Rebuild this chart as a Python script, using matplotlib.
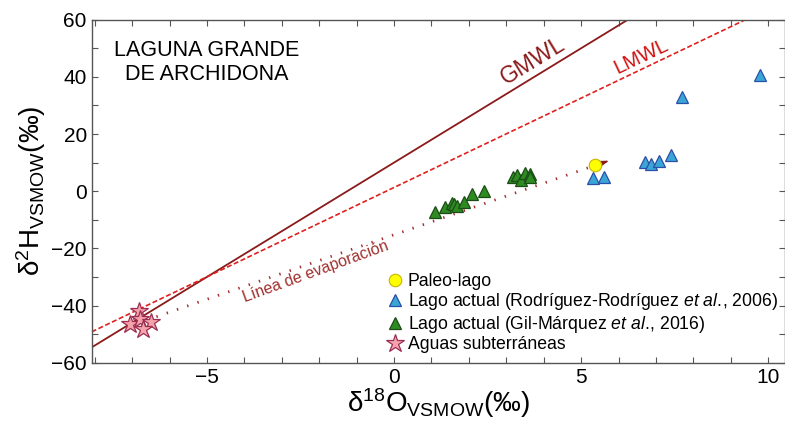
import numpy as np
import matplotlib.pyplot as plt

plt.rcParams['font.family'] = 'Liberation Sans'
plt.rcParams['mathtext.fontset'] = 'custom'
plt.rcParams['mathtext.rm'] = 'Liberation Sans'
plt.rcParams['mathtext.it'] = 'Liberation Sans:italic'

# Aguas subterraneas (d18O, d2H)
subt_x = [-6.82, -7.06, -6.79, -6.50, -6.72]
subt_y = [-41.8, -46.6, -44.7, -45.7, -48.3]

# Lago actual, Gil-Marquez et al. 2016
gil_x = [1.09, 1.36, 1.54, 1.61, 1.68, 1.86, 2.08, 2.40, 3.17, 3.30, 3.39, 3.50, 3.63, 3.64]
gil_y = [-7.4, -5.4, -4.0, -4.5, -5.2, -3.7, -1.0, 0.2, 5.1, 5.8, 3.9, 6.3, 6.0, 4.9]

# Lago actual, Rodriguez-Rodriguez et al. 2006
rod_x = [5.33, 5.60, 6.70, 6.86, 7.09, 7.41, 7.70, 9.78]
rod_y = [4.5, 5.1, 10.1, 9.5, 10.6, 12.5, 33.1, 40.5]

# Paleo-lago
paleo_x = [5.37]
paleo_y = [9.0]

# rectas meteoricas: pendiente, ordenada
gmwl = (8.0, 10.0)
lmwl = (6.25, 1.3)
# linea de evaporacion (desde aguas subterraneas hasta el paleo-lago)
evap_x = [-6.35, 5.37]
evap_y = [-43.9, 9.0]

fig = plt.figure(figsize=(7.85, 4.21), dpi=100)
ax = fig.add_axes([0.1168, 0.1385, 0.8832, 0.8147])
xlim = (-8.08, 10.45)
ax.set_xlim(xlim)
ax.set_ylim(-60, 60)

xx = np.array(xlim)
ax.plot(xx, gmwl[0] * xx + gmwl[1], color='#8B1A1A', lw=1.3, zorder=2)
ax.plot(xx, lmwl[0] * xx + lmwl[1], color='#E0201E', lw=1.2, ls=(0, (3, 1.5)), zorder=2)
ax.plot(evap_x, evap_y, color='#A0302E', lw=2.0, ls=(0, (0.5, 3.4)), zorder=2)
ax.annotate('', xy=(5.82, 11.0), xytext=(5.45, 9.35),
            arrowprops=dict(arrowstyle='-|>,head_length=0.8,head_width=0.25',
                            color='#8B1A1A', lw=1.0), zorder=3)

ax.plot(paleo_x, paleo_y, 'o', ms=9, mfc='#FFFF00', mec='#C8B400', mew=0.8,
        ls='none', label='Paleo-lago', zorder=4)
ax.plot(rod_x, rod_y, '^', ms=9, mfc='#3AA6D6', mec='#2A4FA8', mew=0.9,
        ls='none', label=r'Lago actual (Rodríguez-Rodríguez $\mathit{et\ al.}\!$, 2006)', zorder=4)
ax.plot(gil_x, gil_y, '^', ms=9, mfc='#2E8B22', mec='#1B4D16', mew=0.9,
        ls='none', label=r'Lago actual (Gil-Márquez $\mathit{et\ al.}\!$, 2016)', zorder=4)
ax.plot(subt_x, subt_y, '*', ms=13.5, mfc='#F4A3AC', mec='#9C2E52', mew=0.9,
        ls='none', label='Aguas subterráneas', zorder=4)

ax.text(3.72, 45.5, 'GMWL', color='#8B1A1A', fontsize=16.5, rotation=31.4,
        ha='center', va='center', rotation_mode='anchor')
ax.text(6.6, 47.2, 'LMWL', color='#D01010', fontsize=14.5, rotation=25.5,
        ha='center', va='center', rotation_mode='anchor')
ax.text(-2.1, -28.3, 'Línea de evaporación', color='#A0302E', fontsize=11.5,
        rotation=20, ha='center', va='center', rotation_mode='anchor')
ax.text(-5.0, 45, 'LAGUNA GRANDE\nDE ARCHIDONA', fontsize=15.5, ha='center',
        va='center', linespacing=1.2)

ax.legend(loc='lower left', bbox_to_anchor=(0.41, -0.008), frameon=False,
          fontsize=12.7, handlelength=0.8, handletextpad=0.3, labelspacing=0.08,
          borderaxespad=0.3)

ax.set_xticks([-5, 0, 5, 10])
ax.set_xticks(np.arange(-8, 11, 1), minor=True)
ax.set_yticks(np.arange(-60, 61, 20))
ax.set_yticks(np.arange(-60, 61, 10), minor=True)
ax.tick_params(which='both', direction='in', top=True, right=True,
               length=4, width=0.8, color='#555555', labelsize=15)
for s in ax.spines.values():
    s.set_color('#555555')
    s.set_linewidth(1.0)

ax.set_xlabel(r'δ$^{18}$O$_{\mathrm{VSMOW}}$(‰)', fontsize=20, labelpad=0)
ax.set_ylabel(r'δ$^{2}$H$_{\mathrm{VSMOW}}$(‰)', fontsize=20, labelpad=2)

fig.savefig('out.png', dpi=100)
